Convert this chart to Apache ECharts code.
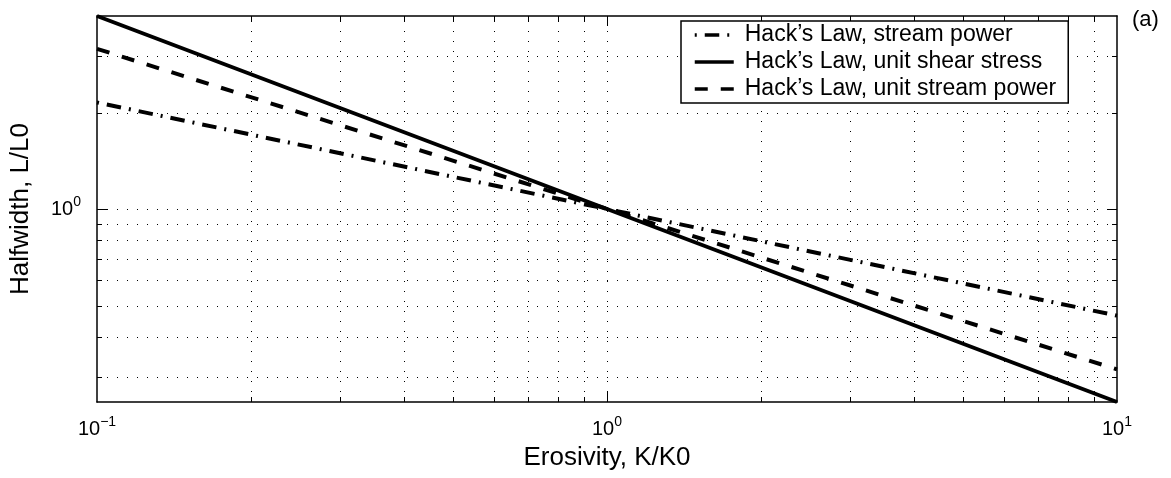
<!DOCTYPE html>
<html>
<head>
<meta charset="utf-8">
<script src="https://cdn.jsdelivr.net/npm/echarts@6/dist/echarts.min.js"></script>
<style>
html,body{margin:0;padding:0;background:#fff;}
#chart{width:1171px;height:478px;}
</style>
</head>
<body>
<div id="chart"></div>
<script>
// ---- data ----
const erosivity = [0.1, 1, 10];                 // K/K0
const streamPower = [2.15, 1.0, 0.465];         // dash-dot
const unitShearStress = [4.0, 1.0, 0.25];       // solid
const unitStreamPower = [3.16, 1.0, 0.316];     // dashed
const seriesNames = ['Hack’s Law, stream power', 'Hack’s Law, unit shear stress', 'Hack’s Law, unit stream power'];
const xRange = [0.1, 10];
const yRange = [0.25, 4];
const xTickLabels = [['0.1', '10', '−1'], ['1', '10', '0'], ['10', '10', '1']];
const yTickLabels = [['1', '10', '0']];
const xGridValues = [0.2, 0.3, 0.4, 0.5, 0.6, 0.7, 0.8, 0.9, 1, 2, 3, 4, 5, 6, 7, 8, 9];
const yGridValues = [0.3, 0.4, 0.5, 0.6, 0.7, 0.8, 0.9, 1, 2, 3];
const majorValues = [0.1, 1, 10];

const FONT = "'Liberation Sans', Arial, Helvetica, sans-serif";

function lookupLabel(table, v) {
  for (const row of table) {
    if (Math.abs(Number(row[0]) - v) < 1e-6 * Math.max(1, v)) return '{b|' + row[1] + '}{s|' + row[2] + '}';
  }
  return '';
}
function isMajor(v) { return majorValues.some(m => Math.abs(m - v) < 1e-9); }

const richLabel = {
  b: { fontSize: 20, fontFamily: FONT, color: '#000', lineHeight: 28 },
  s: { fontSize: 14, fontFamily: FONT, color: '#000', lineHeight: 10, verticalAlign: 'top' }
};

const dotted = { stroke: '#000', lineWidth: 1, lineDash: [1, 9] };
const solidThin = { stroke: '#000', lineWidth: 1 };

const chart = echarts.init(document.getElementById('chart'), null, { renderer: 'canvas' });

const option = {
  animation: false,
  backgroundColor: '#fff',
  grid: { left: 96, right: 54, top: 16, bottom: 76, containLabel: false },
  xAxis: [
    {
      type: 'log', logBase: 10, min: xRange[0], max: xRange[1], position: 'bottom',
      axisLine: { show: true, onZero: false, lineStyle: { color: '#000', width: 1.5 } },
      axisTick: { show: false }, splitLine: { show: false },
      axisLabel: { margin: 13, formatter: v => lookupLabel(xTickLabels, v), rich: richLabel, showMinLabel: true, showMaxLabel: true },
      name: 'Erosivity, K/K0', nameLocation: 'middle', nameGap: 43,
      nameTextStyle: { fontSize: 26, fontFamily: FONT, color: '#000', lineHeight: 26 }
    },
    {
      type: 'log', logBase: 10, min: xRange[0], max: xRange[1], position: 'top',
      axisLine: { show: true, onZero: false, lineStyle: { color: '#000', width: 1.5 } },
      axisTick: { show: false }, splitLine: { show: false }, axisLabel: { show: false }
    }
  ],
  yAxis: [
    {
      type: 'log', logBase: 10, min: yRange[0], max: yRange[1], position: 'left',
      axisLine: { show: true, onZero: false, lineStyle: { color: '#000', width: 1.5 } },
      axisTick: { show: false }, splitLine: { show: false },
      axisLabel: { margin: 16, formatter: v => lookupLabel(yTickLabels, v), rich: richLabel },
      name: 'Halfwidth, L/L0', nameLocation: 'middle', nameGap: 63,
      nameTextStyle: { fontSize: 26, fontFamily: FONT, color: '#000', lineHeight: 26 }
    },
    {
      type: 'log', logBase: 10, min: yRange[0], max: yRange[1], position: 'right',
      axisLine: { show: true, onZero: false, lineStyle: { color: '#000', width: 1.5 } },
      axisTick: { show: false }, splitLine: { show: false }, axisLabel: { show: false }
    }
  ],
  legend: {
    data: seriesNames,
    orient: 'vertical', left: 681, top: 21,
    itemWidth: 39, itemHeight: 14, itemGap: 0,
    padding: [0.5, 12, 0.5, 12],
    borderColor: '#000', borderWidth: 1.5, borderRadius: 0, backgroundColor: '#fff',
    selectedMode: false,
    textStyle: { fontSize: 23, fontFamily: FONT, color: '#000', lineHeight: 27, padding: [0, 0, 0, 6] },
    itemStyle: { color: 'rgba(0,0,0,0)', borderWidth: 0, opacity: 0 },
    lineStyle: { width: 3.5 }
  },
  graphic: [
    { type: 'text', left: 1132, top: 9, style: { text: '(a)', fontSize: 22, fontFamily: FONT, fill: '#000' } }
  ],
  series: [
    {
      name: 'xgrid', type: 'custom', xAxisIndex: 0, yAxisIndex: 0, z: 1, silent: true,
      data: xGridValues.map(v => [v, 1]),
      renderItem: function (params, api) {
        const v = api.value(0);
        const p0 = api.coord([v, yRange[0]]);
        const p1 = api.coord([v, yRange[1]]);
        const x = Math.round(p0[0]) + 0.5;
        const t = isMajor(v) ? 10 : 5;
        return {
          type: 'group', children: [
            { type: 'line', shape: { x1: x, y1: p0[1], x2: x, y2: p1[1] }, style: dotted },
            { type: 'line', shape: { x1: x, y1: p0[1], x2: x, y2: p0[1] - t }, style: solidThin },
            { type: 'line', shape: { x1: x, y1: p1[1], x2: x, y2: p1[1] + t }, style: solidThin }
          ]
        };
      }
    },
    {
      name: 'ygrid', type: 'custom', xAxisIndex: 0, yAxisIndex: 0, z: 1, silent: true,
      data: yGridValues.map(v => [1, v]),
      renderItem: function (params, api) {
        const v = api.value(1);
        const p0 = api.coord([xRange[0], v]);
        const p1 = api.coord([xRange[1], v]);
        const y = Math.round(p0[1]) + 0.5;
        const t = isMajor(v) ? 10 : 5;
        return {
          type: 'group', children: [
            { type: 'line', shape: { x1: p0[0], y1: y, x2: p1[0], y2: y }, style: dotted },
            { type: 'line', shape: { x1: p0[0], y1: y, x2: p0[0] + t, y2: y }, style: solidThin },
            { type: 'line', shape: { x1: p1[0], y1: y, x2: p1[0] - t, y2: y }, style: solidThin }
          ]
        };
      }
    },
    {
      name: seriesNames[0], type: 'line', z: 3, symbol: 'none', showSymbol: false, silent: true,
      data: erosivity.map((x, i) => [x, streamPower[i]]),
      lineStyle: { color: '#000', width: 4, type: [2, 8, 14.5, 8], cap: 'butt' }, itemStyle: { color: '#000' }
    },
    {
      name: seriesNames[1], type: 'line', z: 3, symbol: 'none', showSymbol: false, silent: true,
      data: erosivity.map((x, i) => [x, unitShearStress[i]]),
      lineStyle: { color: '#000', width: 4, type: 'solid', cap: 'butt' }, itemStyle: { color: '#000' }
    },
    {
      name: seriesNames[2], type: 'line', z: 3, symbol: 'none', showSymbol: false, silent: true,
      data: erosivity.map((x, i) => [x, unitStreamPower[i]]),
      lineStyle: { color: '#000', width: 4, type: [13, 13], cap: 'butt' }, itemStyle: { color: '#000' }
    }
  ]
};
chart.setOption(option);
</script>
</body>
</html>
